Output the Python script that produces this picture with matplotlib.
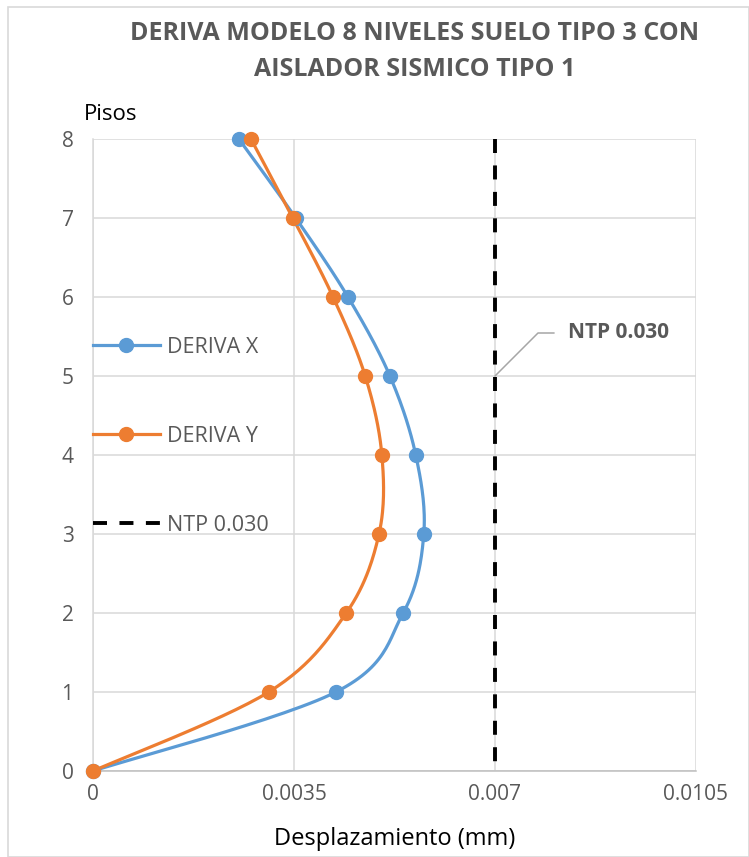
import numpy as np
import matplotlib.pyplot as plt
from matplotlib.lines import Line2D
from matplotlib.patches import Rectangle

plt.rcParams['font.family'] = ['Open Sans', 'DejaVu Sans']

# data
pisos = [0, 1, 2, 3, 4, 5, 6, 7, 8]
deriva_x = [0, 0.00423, 0.00540, 0.00576, 0.00562, 0.00517, 0.00444, 0.00353, 0.00254]
deriva_y = [0, 0.00306, 0.00441, 0.00498, 0.00503, 0.00474, 0.00418, 0.00348, 0.00275]
ntp_x = [0.007, 0.007]
ntp_y = [8, 0]
xticks = [0, 0.0035, 0.007, 0.0105]
xtick_labels = ['0', '0.0035', '0.007', '0.0105']

blue = '#5B9BD5'
orange = '#ED7D31'
grey = '#595959'
dash = (0, (3.6, 3.2))


def smooth(xs, ys, sx, sy, n=30):
    # Excel-like smoothed line: cubic bezier through the points (catmull-rom)
    p = np.column_stack([np.asarray(xs) * sx, np.asarray(ys) * sy])
    pts = [p[0]]
    for i in range(len(p) - 1):
        p0 = p[i - 1] if i > 0 else p[i]
        p3 = p[i + 2] if i + 2 < len(p) else p[i + 1]
        c1 = p[i] + (p[i + 1] - p0) / 6
        c2 = p[i + 1] - (p3 - p[i]) / 6
        t = np.linspace(0, 1, n)[1:, None]
        seg = ((1 - t) ** 3 * p[i] + 3 * (1 - t) ** 2 * t * c1
               + 3 * (1 - t) * t ** 2 * c2 + t ** 3 * p[i + 1])
        pts.extend(seg)
    pts = np.array(pts)
    return pts[:, 0] / sx, pts[:, 1] / sy


fig = plt.figure(figsize=(7.49, 8.57), dpi=100)
ax = fig.add_axes([93 / 749, 1 - 771 / 857, 603 / 749, 632 / 857])

sx, sy = 603 / 0.0105, 79.0
for xs, c in [(deriva_x, blue), (deriva_y, orange)]:
    lx, ly = smooth(xs, pisos, sx, sy)
    ax.plot(lx, ly, color=c, lw=2.3, solid_capstyle='round', zorder=3, clip_on=False)
ax.plot(deriva_x, pisos, 'o', color=blue, ms=10, zorder=4, clip_on=False)
ax.plot(deriva_y, pisos, 'o', color=orange, ms=10, zorder=4, clip_on=False)
ax.plot(ntp_x, ntp_y, color='black', lw=2.8, ls=dash, dash_capstyle='butt', zorder=2)

ax.set_xlim(0, 0.0105)
ax.set_ylim(0, 8)
ax.set_xticks(xticks)
ax.set_xticklabels(xtick_labels)
ax.set_yticks(pisos)
ax.tick_params(length=0, labelsize=15, labelcolor=grey, pad=9)
ax.tick_params(axis='y', pad=14)
ax.grid(True, color='#D9D9D9', lw=1.1)
ax.set_axisbelow(True)
for s in ['top', 'right']:
    ax.spines[s].set_visible(False)
ax.spines['left'].set_color('#D9D9D9')
ax.spines['bottom'].set_color('#BFBFBF')
ax.spines['left'].set_linewidth(1.1)
ax.spines['bottom'].set_linewidth(1.1)

ax.set_xlabel('Desplazamiento (mm)', fontsize=17, color='black', labelpad=16)

# legend drawn inside the plot on the left
handles = [Line2D([], [], color=blue, lw=2.3, marker='o', ms=10),
           Line2D([], [], color=orange, lw=2.3, marker='o', ms=10),
           Line2D([], [], color='black', lw=2.8, ls=dash, dash_capstyle='butt')]
leg = fig.legend(handles, ['DERIVA X', 'DERIVA Y', 'NTP 0.030'],
                 loc='upper left', bbox_to_anchor=(93 / 749, 1 - 337 / 857),
                 frameon=False, fontsize=15.5, handlelength=3.1, handletextpad=0.35,
                 labelspacing=3.15, borderpad=0, borderaxespad=0)
for t in leg.get_texts():
    t.set_color(grey)

# annotation
ax.annotate('NTP 0.030', xy=(0.007, 5), xytext=(568 / 749, 1 - 333 / 857),
            textcoords='figure fraction', fontsize=15, fontweight='bold',
            color=grey, va='center', ha='left',
            arrowprops=dict(arrowstyle='-', color='#A6A6A6', lw=1.1,
                            connectionstyle='angle,angleA=0,angleB=45,rad=0',
                            shrinkA=8, shrinkB=0))

fig.text(415 / 749, 1 - 33 / 857, 'DERIVA MODELO 8 NIVELES SUELO TIPO 3 CON',
         ha='center', va='center', fontsize=18, fontweight='bold', color=grey)
fig.text(415 / 749, 1 - 69 / 857, 'AISLADOR SISMICO TIPO 1',
         ha='center', va='center', fontsize=18, fontweight='bold', color=grey)
fig.text(84 / 749, 1 - 115 / 857, 'Pisos', ha='left', va='center',
         fontsize=16, color='black')

fig.patches.append(Rectangle((8 / 749, 0), 1 - 8 / 749, 1 - 7 / 857,
                             transform=fig.transFigure, fill=False,
                             ec='#D9D9D9', lw=1.2))

fig.savefig('out.png', dpi=100)
